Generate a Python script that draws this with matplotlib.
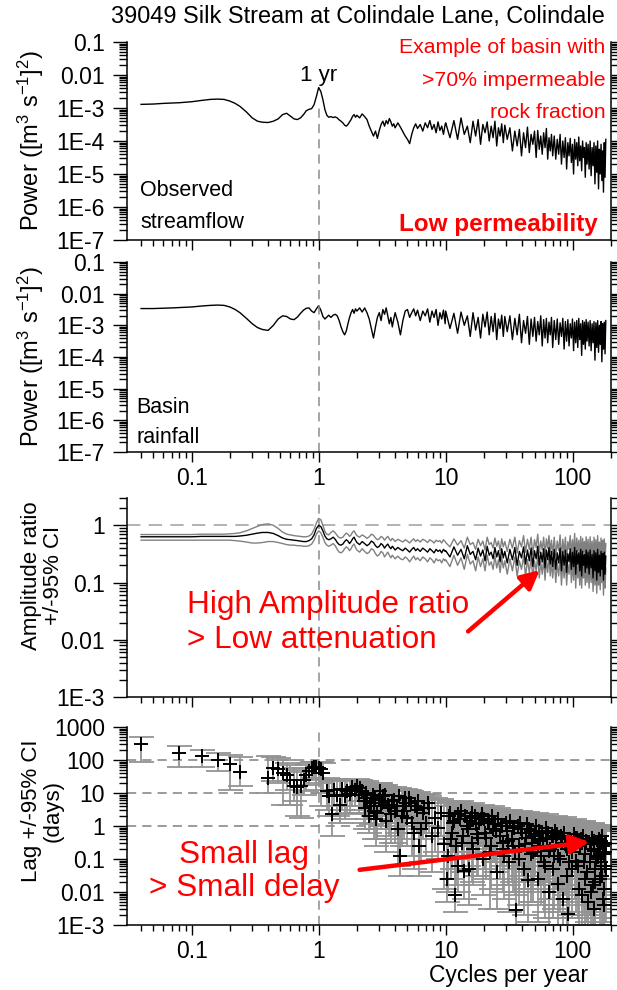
import matplotlib.pyplot as plt
import numpy as np

plt.rcParams['font.family'] = ['Liberation Sans', 'DejaVu Sans']
plt.rcParams['mathtext.fontset'] = 'custom'
plt.rcParams['mathtext.rm'] = 'Liberation Sans'
plt.rcParams['mathtext.it'] = 'Liberation Sans:italic'

# --- spectra frequency grid (cycles per year) ---
freq_low = [0.04, 0.05, 0.06, 0.07, 0.08, 0.10, 0.12, 0.14, 0.16, 0.18,
            0.20, 0.22, 0.24, 0.27, 0.30, 0.33, 0.36, 0.40, 0.44, 0.48,
            0.52, 0.56, 0.60, 0.64, 0.68, 0.72, 0.76, 0.80, 0.84, 0.88,
            0.92, 0.96, 1.00, 1.04, 1.08, 1.12, 1.16, 1.20]
freq_mid = [1.25, 1.30, 1.35, 1.40, 1.45, 1.50, 1.55, 1.60, 1.65, 1.70,
            1.75, 1.80, 1.85, 1.90, 1.95, 2.0, 2.1, 2.2, 2.3, 2.4,
            2.5, 2.6, 2.7, 2.8, 2.9, 3.0, 3.1, 3.2, 3.3, 3.4,
            3.5, 3.6, 3.7, 3.8, 3.9, 4.0, 4.2, 4.4, 4.6, 4.8,
            5.0, 5.2, 5.4, 5.6, 5.8, 6.0, 6.3, 6.6, 6.9, 7.2,
            7.5, 7.8, 8.1, 8.4, 8.7, 9.0, 9.3, 9.6, 9.9]
freq_high = [10.0, 10.8, 11.6, 12.4, 13.2, 14.0, 14.8, 15.6, 16.4, 17.2,
             18.0, 18.8, 19.6, 20.4, 21.2, 22.0, 22.8, 23.6, 24.4, 25.2,
             26.0, 26.8, 27.6, 28.4, 29.2,
             30.5, 32.0, 33.5, 35.0, 36.5, 38.0, 39.5, 41.0, 42.5, 44.0,
             45.5, 47.0, 48.5, 50.0, 51.5, 53.0, 54.5, 56.0, 57.5, 59.0,
             60.5, 62.0, 63.5, 65.0, 66.5, 68.0, 69.5,
             71.5, 73.5, 75.5, 77.5, 79.5, 81.5, 83.5, 85.5, 87.5, 89.5,
             91.5, 93.5, 95.5, 97.5, 99.5, 101.5, 103.5, 105.5, 107.5, 109.5,
             111.5, 113.5, 115.5, 117.5, 119.5, 121.5, 123.5, 125.5, 127.5, 129.5,
             132.0, 134.5, 137.0, 139.5, 142.0, 144.5, 147.0, 149.5, 152.0, 154.5,
             157.0, 159.5, 162.0, 164.5, 167.0, 169.5, 172.0, 174.5, 177.0, 179.5,
             182.0]

# --- observed streamflow power, log10 ---
flow_low = [-2.89, -2.88, -2.86, -2.85, -2.84, -2.81, -2.77, -2.74, -2.73, -2.74,
            -2.79, -2.86, -2.95, -3.12, -3.30, -3.40, -3.43, -3.44, -3.40, -3.33,
            -3.20, -3.16, -3.25, -3.33, -3.35, -3.30, -3.20, -3.08, -3.04, -3.02,
            -2.90, -2.65, -2.38, -2.50, -2.75, -3.05, -3.22, -3.28]
flow_mid = [-3.26, -3.29, -3.27, -3.30, -3.36, -3.40, -3.45, -3.52, -3.55, -3.50,
            -3.42, -3.35, -3.25, -3.20, -3.28, -3.22, -3.30, -3.18, -3.26, -3.35,
            -3.55, -3.70, -3.85, -3.70, -3.92, -3.68, -3.50, -3.40, -3.55, -3.38,
            -3.48, -3.32, -3.42, -3.55, -3.48, -3.60, -3.45, -3.58, -3.72, -3.85,
            -3.95, -4.08, -3.80, -3.60, -3.48, -3.62, -3.50, -3.70, -3.45, -3.60,
            -3.38, -3.65, -3.50, -3.75, -3.42, -3.68, -3.55, -3.80, -3.50]
flow_high = [-3.45, -3.90, -3.38, -3.95, -3.30, -3.80, -3.55, -4.05, -3.40, -3.85,
             -3.35, -4.10, -3.50, -3.75, -3.42, -4.00, -3.55, -3.90, -3.40, -4.15,
             -3.60, -3.85, -3.48, -4.05, -3.52,
             -3.95, -3.60, -4.30, -3.70, -4.15, -3.65, -4.45, -3.75, -4.20, -3.58,
             -4.35, -3.80, -4.10, -3.70, -4.50, -3.68, -4.25, -3.85, -4.40, -3.75,
             -4.20, -3.62, -4.55, -3.90, -4.30, -3.80, -4.45,
             -3.85, -4.55, -3.95, -4.40, -3.80, -4.70, -4.00, -4.50, -3.90, -4.85,
             -4.05, -4.45, -3.92, -4.65, -4.10, -5.00, -3.95, -4.55, -4.05, -4.75,
             -3.88, -4.60, -4.15, -4.90, -4.00, -4.50, -4.20, -5.10, -4.05, -4.70,
             -4.10, -4.85, -4.00, -5.05, -4.20, -4.75, -4.05, -5.30, -4.15, -4.95,
             -4.00, -5.45, -4.25, -5.00, -4.10, -5.20, -4.30, -5.55, -4.05, -5.10,
             -3.95]

# --- basin rainfall power, log10 ---
rain_low = [-2.47, -2.47, -2.46, -2.45, -2.44, -2.42, -2.39, -2.37, -2.36, -2.37,
            -2.42, -2.50, -2.60, -2.78, -2.95, -3.07, -3.13, -3.16, -3.00, -2.80,
            -2.70, -2.72, -2.80, -2.82, -2.74, -2.62, -2.52, -2.46, -2.45, -2.55,
            -2.60, -2.48, -2.38, -2.52, -2.72, -2.80, -2.74, -2.68]
rain_mid = [-2.75, -2.68, -2.65, -2.70, -2.85, -3.05, -3.20, -3.30, -3.18, -2.95,
            -2.75, -2.60, -2.50, -2.62, -2.48, -2.55, -2.45, -2.58, -2.45, -2.60,
            -2.80, -3.10, -3.40, -3.05, -2.75, -2.60, -2.85, -2.50, -2.65, -2.45,
            -2.70, -2.95, -2.75, -3.05, -2.80, -2.60, -2.90, -3.30, -2.85, -2.55,
            -2.50, -2.75, -2.60, -2.48, -2.70, -2.52, -2.85, -2.55, -2.70, -2.48,
            -2.90, -2.55, -2.75, -2.50, -3.00, -2.60, -2.80, -2.52, -2.95]
rain_high = [-2.55, -3.10, -2.62, -3.25, -2.58, -3.00, -2.70, -3.35, -2.60, -3.15,
             -2.75, -3.40, -2.65, -3.05, -2.58, -3.30, -2.72, -3.20, -2.62, -3.45,
             -2.80, -3.10, -2.68, -3.35, -2.72,
             -3.20, -2.70, -3.45, -2.78, -3.30, -2.65, -3.55, -2.85, -3.25, -2.72,
             -3.60, -2.80, -3.35, -2.75, -3.50, -2.88, -3.30, -2.70, -3.65, -2.82,
             -3.40, -2.78, -3.55, -2.90, -3.30, -2.75, -3.70,
             -2.85, -3.45, -2.80, -3.60, -2.92, -3.35, -2.78, -3.75, -2.88, -3.50,
             -2.82, -3.65, -2.95, -3.40, -2.80, -3.80, -2.90, -3.55, -2.85, -3.70,
             -2.78, -3.45, -2.95, -3.95, -2.85, -3.60, -2.90, -3.75, -2.82, -3.50,
             -2.90, -3.65, -2.85, -3.80, -2.95, -3.55, -2.88, -4.10, -2.92, -3.70,
             -2.85, -3.85, -3.00, -3.60, -2.88, -4.15, -2.95, -3.75, -2.90, -3.90,
             -2.85]

# --- amplitude ratio and 95% CI ---
ratio_low = [0.63, 0.63, 0.63, 0.63, 0.63, 0.63, 0.64, 0.64, 0.64, 0.64,
             0.64, 0.64, 0.65, 0.67, 0.70, 0.73, 0.75, 0.75, 0.72, 0.66,
             0.60, 0.57, 0.56, 0.55, 0.54, 0.53, 0.52, 0.52, 0.54, 0.58,
             0.68, 0.88, 1.00, 0.95, 0.80, 0.65, 0.58, 0.56]
ratio_mid = [0.58, 0.62, 0.57, 0.50, 0.46, 0.45, 0.47, 0.52, 0.56, 0.53,
             0.48, 0.52, 0.58, 0.62, 0.55, 0.50, 0.46, 0.52, 0.48, 0.44,
             0.47, 0.53, 0.50, 0.44, 0.41, 0.43, 0.48, 0.45, 0.40, 0.44,
             0.47, 0.42, 0.39, 0.43, 0.40, 0.37, 0.41, 0.38, 0.36, 0.40,
             0.37, 0.34, 0.38, 0.41, 0.36, 0.39, 0.35, 0.40, 0.37, 0.34,
             0.39, 0.36, 0.33, 0.38, 0.35, 0.37, 0.33, 0.38, 0.35]
ratio_high = [0.36, 0.28, 0.42, 0.30, 0.38, 0.26, 0.44, 0.31, 0.35, 0.25,
              0.40, 0.29, 0.37, 0.24, 0.43, 0.30, 0.34, 0.26, 0.41, 0.28,
              0.36, 0.23, 0.39, 0.27, 0.35,
              0.22, 0.38, 0.25, 0.41, 0.20, 0.35, 0.27, 0.42, 0.21, 0.37,
              0.24, 0.40, 0.19, 0.36, 0.26, 0.43, 0.20, 0.34, 0.23, 0.39,
              0.18, 0.37, 0.25, 0.41, 0.21, 0.35, 0.19,
              0.38, 0.17, 0.33, 0.22, 0.40, 0.16, 0.35, 0.20, 0.37, 0.15,
              0.32, 0.23, 0.39, 0.17, 0.34, 0.19, 0.41, 0.14, 0.36, 0.21,
              0.33, 0.16, 0.38, 0.13, 0.35, 0.20, 0.31, 0.15, 0.37, 0.18,
              0.34, 0.14, 0.37, 0.18, 0.31, 0.12, 0.36, 0.16, 0.33, 0.11,
              0.38, 0.15, 0.30, 0.13, 0.35, 0.17, 0.32, 0.11, 0.34, 0.14,
              0.29]
upper_low = [0.69, 0.69, 0.69, 0.69, 0.69, 0.69, 0.70, 0.70, 0.70, 0.70,
             0.71, 0.72, 0.74, 0.80, 0.88, 0.96, 1.03, 1.06, 1.00, 0.88,
             0.76, 0.70, 0.68, 0.66, 0.65, 0.64, 0.63, 0.63, 0.65, 0.70,
             0.85, 1.10, 1.32, 1.25, 1.00, 0.78, 0.70, 0.68]
upper_mid = [0.75, 0.80, 0.74, 0.66, 0.61, 0.60, 0.62, 0.68, 0.73, 0.70,
             0.64, 0.68, 0.76, 0.80, 0.72, 0.66, 0.62, 0.68, 0.64, 0.59,
             0.63, 0.70, 0.67, 0.60, 0.56, 0.58, 0.64, 0.61, 0.55, 0.60,
             0.64, 0.58, 0.54, 0.59, 0.56, 0.52, 0.57, 0.54, 0.51, 0.56,
             0.53, 0.49, 0.54, 0.58, 0.52, 0.56, 0.51, 0.57, 0.54, 0.50,
             0.56, 0.53, 0.49, 0.55, 0.52, 0.54, 0.49, 0.56, 0.52]
upper_high = [0.50, 0.42, 0.58, 0.45, 0.54, 0.40, 0.62, 0.46, 0.50, 0.38,
              0.57, 0.44, 0.53, 0.37, 0.62, 0.46, 0.50, 0.40, 0.60, 0.43,
              0.53, 0.36, 0.58, 0.42, 0.52,
              0.35, 0.57, 0.40, 0.62, 0.33, 0.54, 0.42, 0.66, 0.34, 0.57,
              0.38, 0.62, 0.31, 0.56, 0.41, 0.70, 0.33, 0.53, 0.37, 0.62,
              0.30, 0.58, 0.40, 0.66, 0.34, 0.55, 0.31,
              0.62, 0.29, 0.53, 0.36, 0.68, 0.27, 0.57, 0.33, 0.62, 0.26,
              0.52, 0.38, 0.66, 0.29, 0.56, 0.32, 0.72, 0.24, 0.60, 0.35,
              0.55, 0.27, 0.64, 0.23, 0.59, 0.34, 0.52, 0.26, 0.63, 0.31,
              0.57, 0.25, 0.63, 0.31, 0.53, 0.22, 0.62, 0.28, 0.56, 0.20,
              0.66, 0.27, 0.51, 0.23, 0.60, 0.30, 0.55, 0.20, 0.58, 0.25,
              0.48]
lower_low = [0.55, 0.55, 0.55, 0.55, 0.55, 0.55, 0.55, 0.55, 0.55, 0.55,
             0.55, 0.54, 0.53, 0.51, 0.49, 0.49, 0.50, 0.52, 0.52, 0.50,
             0.48, 0.46, 0.45, 0.45, 0.44, 0.44, 0.43, 0.43, 0.44, 0.47,
             0.55, 0.70, 0.80, 0.74, 0.62, 0.50, 0.45, 0.43]
lower_mid = [0.45, 0.48, 0.44, 0.38, 0.34, 0.33, 0.35, 0.39, 0.42, 0.40,
             0.36, 0.39, 0.44, 0.47, 0.41, 0.37, 0.34, 0.39, 0.35, 0.32,
             0.34, 0.39, 0.37, 0.32, 0.29, 0.31, 0.35, 0.33, 0.28, 0.31,
             0.34, 0.30, 0.27, 0.30, 0.28, 0.26, 0.29, 0.26, 0.25, 0.28,
             0.26, 0.23, 0.26, 0.29, 0.25, 0.27, 0.24, 0.28, 0.26, 0.23,
             0.27, 0.25, 0.22, 0.26, 0.24, 0.25, 0.22, 0.26, 0.24]
lower_high = [0.25, 0.19, 0.30, 0.20, 0.27, 0.17, 0.31, 0.21, 0.24, 0.16,
              0.28, 0.19, 0.26, 0.16, 0.30, 0.20, 0.23, 0.17, 0.29, 0.18,
              0.25, 0.15, 0.27, 0.18, 0.24,
              0.14, 0.26, 0.16, 0.28, 0.13, 0.24, 0.17, 0.29, 0.13, 0.25,
              0.15, 0.27, 0.12, 0.24, 0.16, 0.30, 0.12, 0.23, 0.14, 0.26,
              0.11, 0.25, 0.15, 0.28, 0.13, 0.23, 0.12,
              0.25, 0.10, 0.22, 0.13, 0.27, 0.09, 0.23, 0.12, 0.24, 0.09,
              0.21, 0.14, 0.26, 0.10, 0.22, 0.11, 0.27, 0.08, 0.24, 0.12,
              0.21, 0.09, 0.25, 0.08, 0.23, 0.12, 0.20, 0.09, 0.24, 0.10,
              0.22, 0.08, 0.24, 0.10, 0.20, 0.07, 0.23, 0.09, 0.21, 0.065,
              0.25, 0.09, 0.19, 0.075, 0.23, 0.10, 0.21, 0.06, 0.22, 0.08,
              0.18]

# --- lag (days): log10 of value and of its 95% CI limits ---
lag_freq = [0.04, 0.08, 0.12, 0.16, 0.20, 0.24, 0.40, 0.44, 0.48, 0.52,
            0.56, 0.60, 0.64, 0.68, 0.72, 0.76, 0.80, 0.84, 0.88, 0.92,
            0.96, 1.00, 1.04, 1.08,
            1.16, 1.20, 1.28, 1.32, 1.40, 1.48, 1.52, 1.60, 1.68, 1.76,
            1.84, 1.92, 2.00, 2.08, 2.20, 2.32, 2.40, 2.48, 2.60, 2.72,
            2.84, 2.96, 3.08, 3.20, 3.40, 3.60, 3.80, 4.00, 4.20, 4.40,
            4.60, 4.80, 5.00, 5.30, 5.60, 5.90, 6.20, 6.60, 7.00, 7.40,
            7.80, 8.20, 8.70, 9.20, 9.70,
            10.2, 10.6, 11.0, 11.5, 11.9, 12.4, 12.9, 13.4, 14.0, 14.6,
            15.2, 15.8, 16.5, 17.2, 18.0, 18.8, 19.6, 20.5, 21.4, 22.4,
            23.4, 24.4, 25.5, 26.6, 27.8, 29.0, 30.3, 31.6, 33.0, 34.5,
            36.0, 37.6, 39.2, 41.0, 42.8, 44.7, 46.6, 48.6, 50.7, 52.9,
            55.2, 57.6, 60.0, 62.6, 65.3, 68.1, 71.0, 74.0, 77.2, 80.5,
            84.0, 87.6, 91.3, 95.2, 99.3, 103.5, 108.0, 112.6, 117.4, 122.4,
            127.6, 133.0, 138.0, 143.0, 148.0, 153.0, 158.0, 163.0, 168.0, 173.0,
            178.0, 182.0,
            10.4, 13.1, 16.0, 19.2, 23.0, 26.0, 28.4, 32.3, 35.2, 38.4,
            43.7, 47.6, 51.8, 56.4, 61.3, 66.7, 72.5, 78.8, 85.8, 93.2,
            101.4, 110.3, 120.0, 130.3, 140.5, 150.5, 160.5, 170.5, 180.0, 145.5,
            155.5, 165.5, 175.5,
            2.12, 2.26, 2.36, 2.52, 2.66, 2.78, 2.90, 3.02, 3.14, 3.30,
            3.50, 3.70, 3.90, 4.10, 4.30, 4.50, 4.70, 4.90, 5.15, 5.45,
            5.75, 6.05, 6.40, 6.80, 7.20,
            10.8, 11.3, 11.7, 12.1, 12.6, 13.7, 14.3, 14.9, 15.5, 16.2,
            16.9, 17.6, 18.4, 19.9, 20.9, 21.9, 22.9, 23.9, 25.0, 27.2,
            28.0, 29.6, 30.9, 33.7, 34.0, 36.8, 38.0, 40.0, 41.9, 45.6,
            47.0, 49.6, 53.5, 54.0, 58.8, 59.5, 63.9, 64.5, 69.5, 70.0,
            75.5, 76.0, 82.2, 83.0, 89.4, 90.0, 97.2, 98.0, 105.7, 106.5,
            114.9, 115.5, 124.9, 125.5, 135.5, 136.5, 146.5, 147.0, 157.0, 162.0,
            167.0, 172.0, 177.0, 181.0, 183.0, 139.0, 151.0, 171.0, 176.0, 118.5]
lag_log = [2.48, 2.22, 2.12, 2.00, 1.89, 1.63, 1.45, 1.75, 1.72, 1.62,
           1.55, 1.38, 1.22, 1.18, 1.22, 1.40, 1.55, 1.68, 1.75, 1.80,
           1.78, 1.76, 1.72, 1.60,
           1.05, 0.90, 0.35, 1.10, 0.95, 0.65, 1.12, 0.90, 1.05, 0.98,
           1.18, 1.10, 1.20, 0.95, 1.05, 0.55, 0.85, 0.30, 0.70, 0.45,
           0.20, 0.80, 0.60, 0.90, 0.15, 0.55, 0.75, 0.45, -0.10, -0.90,
           0.60, 0.85, 0.25, 0.70, -0.20, 0.50, -0.60, 0.40, 0.10, 0.55,
           -0.30, 0.25, -0.05, 0.40, -0.55,
           -1.60, 0.30, -0.40, 0.10, -2.10, -1.20, 0.20, -0.50, -1.35, 0.00,
           -1.30, 0.25, -0.70, 0.05, -0.35, 0.20, -1.00, -0.20, 0.10, -0.80,
           -0.10, 0.05, -1.40, -0.30, 0.00, -0.90, -0.15, -1.10, -0.40, -0.05,
           -2.55, -0.60, -0.10, -1.30, -0.35, -1.65, -0.15, -0.80, -0.25, -1.60,
           -0.45, -0.20, -1.20, -0.35, -2.00, -0.30, -0.90, -0.40, -1.75, -0.30,
           -2.20, -0.55, -2.67, -0.40, -1.30, -0.60, -0.35, -1.90, -0.50, -1.10,
           -0.45, -2.30, -0.70, -0.40, -2.50, -1.00, -0.50, -1.60, -0.45, -2.20,
           -0.80, -0.55,
           -0.90, 0.45, 0.40, 0.35, 0.30, 0.20, -0.50, 0.15, -0.80, 0.10,
           0.05, -0.50, 0.00, -0.90, -0.05, -0.70, -0.15, -1.00, -0.20, -1.10,
           -0.25, -1.20, -0.30, -1.40, -0.35, -1.30, -0.40, -1.50, -1.20, -1.80,
           -0.90, -1.10, -1.90,
           1.15, 0.75, 1.00, 0.60, 0.95, 0.85, 0.40, 1.05, 0.70, 0.95,
           0.65, 0.35, 0.80, 0.60, 0.90, 0.30, 0.45, 0.70, 0.85, 0.10,
           0.60, 0.75, -0.10, 0.55, 0.70,
           0.40, -0.20, 0.15, -0.60, 0.35, -0.30, 0.30, -0.10, 0.15, -0.50,
           0.30, -0.25, 0.10, 0.20, -0.35, 0.15, -0.60, 0.05, -0.15, 0.00,
           -0.70, 0.10, -0.45, -0.05, -0.60, 0.00, -1.00, -0.20, -0.55, -0.10,
           -0.85, -0.30, -0.60, -0.15, -0.40, -1.10, -0.20, -0.75, -0.30, -1.30,
           -0.25, -0.90, -0.50, -0.35, -0.70, -1.50, -0.45, -0.80, -0.35, -1.05,
           -0.60, -0.40, -0.85, -1.60, -0.55, -1.10, -0.75, -0.45, -0.95, -0.70,
           -1.20, -0.60, -0.85, -0.50, -1.30, -2.00, -1.70, -0.30, -2.40, -2.10]
lag_lo_log = [1.93, 1.78, 1.80, 1.68, 1.10, 1.20, 1.00, 1.35, 1.30, 0.65,
              1.10, 0.65, 0.75, 0.30, 0.25, 0.95, 1.05, 1.25, 1.40, 1.45,
              1.10, 1.30, 0.60, 1.00,
              0.50, 0.30, -0.30, 0.60, 0.30, 0.10, 0.50, 0.20, 0.40, 0.35,
              0.60, 0.60, 0.75, 0.40, 0.50, -0.10, 0.20, -0.20, 0.05, -0.40,
              -0.60, 0.20, -0.10, 0.30, -0.80, -0.30, 0.10, -0.50, -1.20, -1.50,
              0.10, 0.30, -0.60, 0.10, -1.30, -0.20, -1.50, -0.40, -0.90, -0.20,
              -1.40, -0.80, -1.00, -0.30, -1.90,
              -2.3, -0.5, -1.6, -0.8, -2.6, -2.0, -0.6, -1.4, -2.2, -0.9,
              -2.4, -0.5, -1.8, -1.0, -1.5, -0.6, -2.1, -1.3, -0.7, -2.5,
              -1.1, -0.8, -2.5, -1.6, -0.9, -2.2, -1.2, -2.6, -1.7, -0.9,
              -3.0, -2.0, -1.2, -2.7, -1.6, -2.9, -1.1, -2.3, -1.5, -2.9,
              -1.8, -1.2, -2.8, -1.7, -3.0, -1.3, -2.5, -1.9, -3.0, -1.4,
              -3.0, -2.1, -3.0, -1.5, -2.8, -2.2, -1.6, -3.0, -1.9, -2.7,
              -1.7, -3.0, -2.3, -1.6, -3.0, -2.6, -1.9, -3.0, -1.6, -3.0,
              -2.4, -2.0,
              -2.0, -0.2, -0.3, -0.4, -0.5, -0.6, -1.8, -0.6, -2.1, -0.7,
              -0.8, -1.9, -0.9, -2.4, -1.0, -2.2, -1.1, -2.6, -1.2, -2.7,
              -1.3, -2.8, -1.4, -2.9, -1.5, -2.9, -1.6, -3.0, -2.8, -3.0,
              -2.4, -2.6, -3.0,
              0.6, 0.1, 0.4, -0.1, 0.3, 0.2, -0.4, 0.5, 0.0, 0.4,
              -0.1, -0.5, 0.2, -0.2, 0.3, -0.6, -0.4, 0.0, 0.2, -0.9,
              -0.1, 0.1, -1.1, -0.2, 0.0,
              -0.4, -1.3, -0.8, -1.8, -0.5, -1.4, -0.6, -1.2, -0.9, -1.7,
              -0.6, -1.5, -1.0, -0.8, -1.6, -0.9, -1.9, -1.1, -1.4, -1.2,
              -2.0, -1.0, -1.8, -1.3, -2.0, -1.3, -2.4, -1.5, -1.9, -1.4,
              -2.3, -1.7, -2.0, -1.5, -1.8, -2.6, -1.6, -2.2, -1.7, -2.8,
              -1.7, -2.4, -2.0, -1.8, -2.2, -3.0, -1.9, -2.3, -1.8, -2.6,
              -2.1, -1.9, -2.4, -3.0, -2.1, -2.7, -2.3, -2.0, -2.5, -2.3,
              -2.8, -2.2, -2.5, -2.1, -2.9, -3.0, -3.0, -1.9, -3.0, -3.0]
lag_hi_log = [2.70, 2.43, 2.30, 2.20, 2.15, 2.10, 2.12, 2.10, 2.05, 2.00,
              1.90, 1.85, 1.75, 1.70, 1.65, 1.75, 1.85, 1.90, 1.95, 1.95,
              1.95, 1.95, 1.95, 1.90,
              1.45, 1.40, 1.35, 1.42, 1.42, 1.40, 1.40, 1.38, 1.38, 1.36,
              1.40, 1.40, 1.42, 1.38, 1.35, 1.25, 1.28, 1.25, 1.22, 1.25,
              1.15, 1.30, 1.25, 1.22, 1.05, 1.10, 1.15, 1.08, 0.95, 0.80,
              1.10, 1.12, 1.05, 1.05, 0.90, 0.98, 0.85, 0.95, 0.85, 0.92,
              0.80, 0.85, 0.80, 0.82, 0.70,
              0.70, 0.75, 0.70, 0.72, 0.40, 0.55, 0.68, 0.62, 0.50, 0.65,
              0.45, 0.62, 0.55, 0.60, 0.58, 0.58, 0.48, 0.55, 0.55, 0.45,
              0.52, 0.50, 0.38, 0.48, 0.48, 0.40, 0.45, 0.35, 0.42, 0.42,
              0.20, 0.38, 0.40, 0.30, 0.36, 0.25, 0.35, 0.30, 0.33, 0.22,
              0.30, 0.30, 0.22, 0.27, 0.15, 0.26, 0.20, 0.23, 0.12, 0.22,
              0.10, 0.18, 0.05, 0.18, 0.12, 0.15, 0.15, 0.05, 0.12, 0.08,
              0.10, 0.00, 0.06, 0.05, -0.05, 0.00, 0.00, -0.05, -0.05, -0.10,
              -0.10, -0.10,
              0.60, 0.75, 0.70, 0.65, 0.60, 0.56, 0.48, 0.50, 0.40, 0.46,
              0.42, 0.36, 0.40, 0.30, 0.36, 0.28, 0.30, 0.22, 0.26, 0.18,
              0.22, 0.12, 0.16, 0.06, 0.08, 0.02, 0.02, -0.05, -0.05, 0.00,
              0.00, -0.02, -0.08,
              1.40, 1.30, 1.35, 1.28, 1.30, 1.28, 1.22, 1.30, 1.25, 1.25,
              1.18, 1.12, 1.18, 1.12, 1.15, 1.05, 1.08, 1.10, 1.10, 0.95,
              1.00, 1.02, 0.90, 0.98, 0.98,
              0.75, 0.70, 0.72, 0.65, 0.72, 0.66, 0.68, 0.64, 0.64, 0.60,
              0.62, 0.60, 0.58, 0.56, 0.55, 0.55, 0.50, 0.52, 0.50, 0.48,
              0.48, 0.45, 0.44, 0.42, 0.40, 0.40, 0.36, 0.38, 0.36, 0.34,
              0.32, 0.32, 0.30, 0.30, 0.28, 0.24, 0.26, 0.24, 0.24, 0.18,
              0.22, 0.18, 0.18, 0.20, 0.15, 0.05, 0.15, 0.12, 0.14, 0.06,
              0.10, 0.10, 0.06, -0.05, 0.05, 0.00, 0.02, 0.04, -0.02, -0.02,
              -0.05, -0.04, -0.06, -0.08, -0.10, -0.15, -0.10, -0.06, -0.15, -0.10]

# --- axis ticks ---
x_ticks = [0.1, 1, 10, 100]
x_labels = ['0.1', '1', '10', '100']
power_ticks = [1e-7, 1e-6, 1e-5, 1e-4, 1e-3, 1e-2, 1e-1]
power_labels = ['1E-7', '1E-6', '1E-5', '1E-4', '1E-3', '0.01', '0.1']
ratio_ticks = [1e-3, 1e-2, 1e-1, 1]
ratio_labels = ['1E-3', '0.01', '0.1', '1']
lag_ticks = [1e-3, 1e-2, 1e-1, 1, 10, 100, 1000]
lag_labels = ['1E-3', '0.01', '0.1', '1', '10', '100', '1000']

FS = 16.5
RED_FS = 22.7
GREY_DASH = (0, (6, 4))

freq = np.array(freq_low + freq_mid + freq_high)
flow = 10 ** np.array(flow_low + flow_mid + flow_high)
rain = 10 ** np.array(rain_low + rain_mid + rain_high)
ratio = np.array(ratio_low + ratio_mid + ratio_high)
upper = np.array(upper_low + upper_mid + upper_high)
lower = np.array(lower_low + lower_mid + lower_high)

fig = plt.figure(figsize=(6.17, 9.9), dpi=100)
L, W = 127 / 617, 484 / 617


def panel(top_px, bot_px):
    return fig.add_axes([L, 1 - bot_px / 990, W, (bot_px - top_px) / 990])


def style(ax, yticks, ylabels, ylim, show_x):
    ax.set_xscale('log')
    ax.set_yscale('log')
    ax.set_xlim(0.031, 200)
    ax.set_ylim(*ylim)
    ax.spines['top'].set_visible(False)
    for s in ['left', 'right', 'bottom']:
        ax.spines[s].set_linewidth(1.1)
    ax.set_xticks(x_ticks, labels=x_labels if show_x else [''] * 4)
    ax.set_yticks(yticks, labels=ylabels)
    ax.xaxis.set_minor_locator(plt.LogLocator(base=10, subs=np.arange(2, 10), numticks=30))
    ax.yaxis.set_minor_locator(plt.LogLocator(base=10, subs=np.arange(2, 10), numticks=30))
    ax.xaxis.set_minor_formatter(plt.NullFormatter())
    ax.yaxis.set_minor_formatter(plt.NullFormatter())
    ax.tick_params(which='both', direction='out', right=True, top=False,
                   labelsize=FS, width=1.0)
    ax.tick_params(axis='y', which='major', length=10, pad=6)
    ax.tick_params(axis='y', which='minor', length=6)
    ax.tick_params(axis='x', which='major', length=7.5, pad=3)
    ax.tick_params(axis='x', which='minor', length=4)


# --- panel 1: observed streamflow ---
ax1 = panel(42, 240)
ax1.plot(freq, flow, color='black', lw=1.0)
ax1.vlines(1, 1e-7, 1e-3, colors='#8c8c8c', linestyles=GREY_DASH, lw=1.1)
style(ax1, power_ticks, power_labels, (1e-7, 0.1), False)
ax1.set_ylabel('Power ([m$^{3}$ s$^{-1}$]$^{2}$)', fontsize=17)
ax1.yaxis.set_label_coords(-0.168, 0.5)
ax1.text(1, 4.5e-3, '1 yr', fontsize=16, ha='center', va='bottom')
ax1.text(0.027, 0.17, 'Observed\nstreamflow', transform=ax1.transAxes,
         fontsize=15.5, ha='left', va='center', linespacing=1.65)
ax1.text(0.988, 0.808, 'Example of basin with\n>70% impermeable\nrock fraction',
         transform=ax1.transAxes, fontsize=15.3, color='red', ha='right',
         va='center', multialignment='right', linespacing=1.88)
ax1.text(0.973, 0.076, 'Low permeability', transform=ax1.transAxes,
         fontsize=17.5, color='red', fontweight='bold', ha='right', va='center')

# --- panel 2: basin rainfall ---
ax2 = panel(262, 452)
ax2.plot(freq, rain, color='black', lw=1.0)
ax2.axvline(1, color='#8c8c8c', ls=GREY_DASH, lw=1.1)
style(ax2, power_ticks, power_labels, (1e-7, 0.1), True)
ax2.set_ylabel('Power ([m$^{3}$ s$^{-1}$]$^{2}$)', fontsize=17)
ax2.yaxis.set_label_coords(-0.168, 0.5)
ax2.text(0.02, 0.155, 'Basin\nrainfall', transform=ax2.transAxes,
         fontsize=15.5, ha='left', va='center', linespacing=1.55)

# --- panel 3: amplitude ratio ---
ax3 = panel(498, 697)
ax3.axhline(1, color='#a6a6a6', ls=(0, (8, 5)), lw=1.2)
ax3.axvline(1, color='#8c8c8c', ls=GREY_DASH, lw=1.1)
ax3.plot(freq, upper, color='#808080', lw=1.0)
ax3.plot(freq, lower, color='#808080', lw=1.0)
ax3.plot(freq, ratio, color='black', lw=1.0)
style(ax3, ratio_ticks, ratio_labels, (1e-3, 3), False)
ax3.set_ylabel('Amplitude ratio\n+/-95% CI', fontsize=16, linespacing=1.05)
ax3.yaxis.set_label_coords(-0.13, 0.61)
ax3.text(0.124, 0.375, 'High Amplitude ratio\n> Low attenuation',
         transform=ax3.transAxes, fontsize=RED_FS, color='red', ha='left',
         va='center', linespacing=1.2)
ax3.annotate('', xy=(55, 0.165), xytext=(15, 0.014),
             arrowprops=dict(arrowstyle='-|>', color='red', lw=3.2,
                             mutation_scale=28, shrinkA=0, shrinkB=0))

# --- panel 4: lag ---
ax4 = panel(727, 925)
for level in [1, 10, 100]:
    ax4.axhline(level, color='#808080', ls=GREY_DASH, lw=1.1)
ax4.axvline(1, color='#8c8c8c', ls=GREY_DASH, lw=1.1)
lag = 10 ** np.array(lag_log)
lag_lo = 10 ** np.array(lag_lo_log)
lag_hi = 10 ** np.array(lag_hi_log)
yerr = [np.clip(lag - lag_lo, 0, None), np.clip(lag_hi - lag, 0, None)]
ax4.errorbar(lag_freq, lag, yerr=yerr, fmt='none', ecolor='#939393',
             elinewidth=1.3, capsize=9, capthick=1.3)
ax4.plot(lag_freq, lag, '+', color='black', ms=10.5, mew=1.4)
style(ax4, lag_ticks, lag_labels, (1e-3, 1000), True)
ax4.set_ylabel('Lag +/-95% CI\n(days)', fontsize=16, linespacing=1.05)
ax4.yaxis.set_label_coords(-0.13, 0.575)
ax4.set_xlabel('Cycles per year', fontsize=FS)
ax4.xaxis.set_label_coords(0.953, -0.197)
ax4.xaxis.label.set_horizontalalignment('right')
ax4.text(0.242, 0.27, 'Small lag\n> Small delay', transform=ax4.transAxes,
         fontsize=RED_FS, color='red', ha='center', va='center', linespacing=1.15)
ax4.annotate('', xy=(135, 0.33), xytext=(2.1, 0.047),
             arrowprops=dict(arrowstyle='-|>', color='red', lw=3.2,
                             mutation_scale=28, shrinkA=0, shrinkB=0))

fig.text(111 / 617, 1 - 16 / 990, '39049 Silk Stream at Colindale Lane, Colindale',
         fontsize=16.9, ha='left', va='center')

fig.savefig('out.png', dpi=100)
